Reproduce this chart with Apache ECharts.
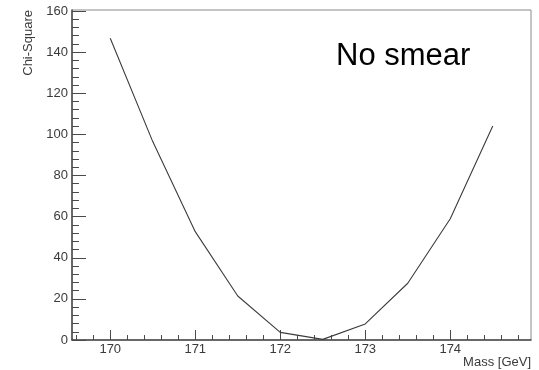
<!DOCTYPE html>
<html>
<head>
<meta charset="utf-8">
<script src="https://cdn.jsdelivr.net/npm/echarts@6/dist/echarts.min.js"></script>
<style>
  html, body { margin: 0; padding: 0; background: #fff; }
  #chart { width: 539px; height: 370px; }
</style>
</head>
<body>
<div id="chart"></div>
<script>
// Chi-square scan versus top mass hypothesis
const massPoints = [170, 170.5, 171, 171.5, 172, 172.5, 173, 173.5, 174, 174.5];
const chiSquare  = [146.8, 96.5, 52.7, 21.4, 3.7, 0.3, 7.8, 27.6, 59.0, 104.1];

// axis tick positions
const xMajorTicks = [170, 171, 172, 173, 174];
const yMajorTicks = [0, 20, 40, 60, 80, 100, 120, 140, 160];
const xMinorTicks = [];
for (let v = 169.6; v < 174.95; v += 0.2) {
  const r = Math.round(v * 10) / 10;
  if (!xMajorTicks.includes(r)) xMinorTicks.push(r);
}
const yMinorTicks = [];
for (let v = 4; v < 160.5; v += 4) {
  if (v % 20 !== 0) yMinorTicks.push(v);
}

const X_MIN = 169.55, X_MAX = 174.95;
const Y_MIN = 0, Y_MAX = 160.5;

const FONT = '"Liberation Sans", Arial, sans-serif';
const AXIS_COLOR = '#4a4a4a';
const TEXT_COLOR = '#3a3a3a';

const chart = echarts.init(document.getElementById('chart'), null, { renderer: 'canvas' });

const gridBox = { left: 72, right: 8, top: 10, bottom: 30 };

chart.setOption({
  backgroundColor: '#fff',
  animation: false,
  grid: Object.assign({ show: true, borderColor: '#8a8a8a', borderWidth: 1, backgroundColor: 'transparent' }, gridBox),
  xAxis: [
    {
      type: 'value', min: X_MIN, max: X_MAX,
      axisLine: { show: true, onZero: false, lineStyle: { color: AXIS_COLOR, width: 1.5 } },
      axisTick: { show: true, inside: true, length: 10, customValues: xMajorTicks, lineStyle: { color: AXIS_COLOR, width: 1 } },
      axisLabel: { show: true, customValues: xMajorTicks, margin: 3, fontSize: 13, color: TEXT_COLOR, fontFamily: FONT },
      splitLine: { show: false }
    },
    {
      type: 'value', min: X_MIN, max: X_MAX, position: 'bottom',
      axisLine: { show: false },
      axisTick: { show: true, inside: true, length: 5, customValues: xMinorTicks, lineStyle: { color: AXIS_COLOR, width: 1 } },
      axisLabel: { show: false },
      splitLine: { show: false }
    }
  ],
  yAxis: [
    {
      type: 'value', min: Y_MIN, max: Y_MAX,
      axisLine: { show: true, onZero: false, lineStyle: { color: AXIS_COLOR, width: 1.5 } },
      axisTick: { show: true, inside: true, length: 14, customValues: yMajorTicks, lineStyle: { color: AXIS_COLOR, width: 1 } },
      axisLabel: { show: true, customValues: yMajorTicks, margin: 4, fontSize: 13, color: TEXT_COLOR, fontFamily: FONT },
      splitLine: { show: false }
    },
    {
      type: 'value', min: Y_MIN, max: Y_MAX, position: 'left',
      axisLine: { show: false },
      axisTick: { show: true, inside: true, length: 7, customValues: yMinorTicks, lineStyle: { color: AXIS_COLOR, width: 1 } },
      axisLabel: { show: false },
      splitLine: { show: false }
    }
  ],
  series: [{
    type: 'line',
    xAxisIndex: 0, yAxisIndex: 0,
    data: massPoints.map((m, i) => [m, chiSquare[i]]),
    showSymbol: false,
    symbol: 'none',
    lineStyle: { color: '#3c3c3c', width: 1.1 },
    clip: true
  }],
  graphic: [
    {
      type: 'text', x: 28, y: 10, rotation: Math.PI / 2,
      style: { text: 'Chi-Square', align: 'right', verticalAlign: 'middle', fontSize: 13, fontFamily: FONT, fill: TEXT_COLOR }
    },
    {
      type: 'text', x: 531, y: 362,
      style: { text: 'Mass [GeV]', align: 'right', verticalAlign: 'middle', fontSize: 13, fontFamily: FONT, fill: TEXT_COLOR }
    },
    {
      type: 'text', x: 336, y: 56,
      style: { text: 'No smear', align: 'left', verticalAlign: 'middle', fontSize: 31, fontFamily: FONT, fill: '#000' }
    }
  ]
});
</script>
</body>
</html>
